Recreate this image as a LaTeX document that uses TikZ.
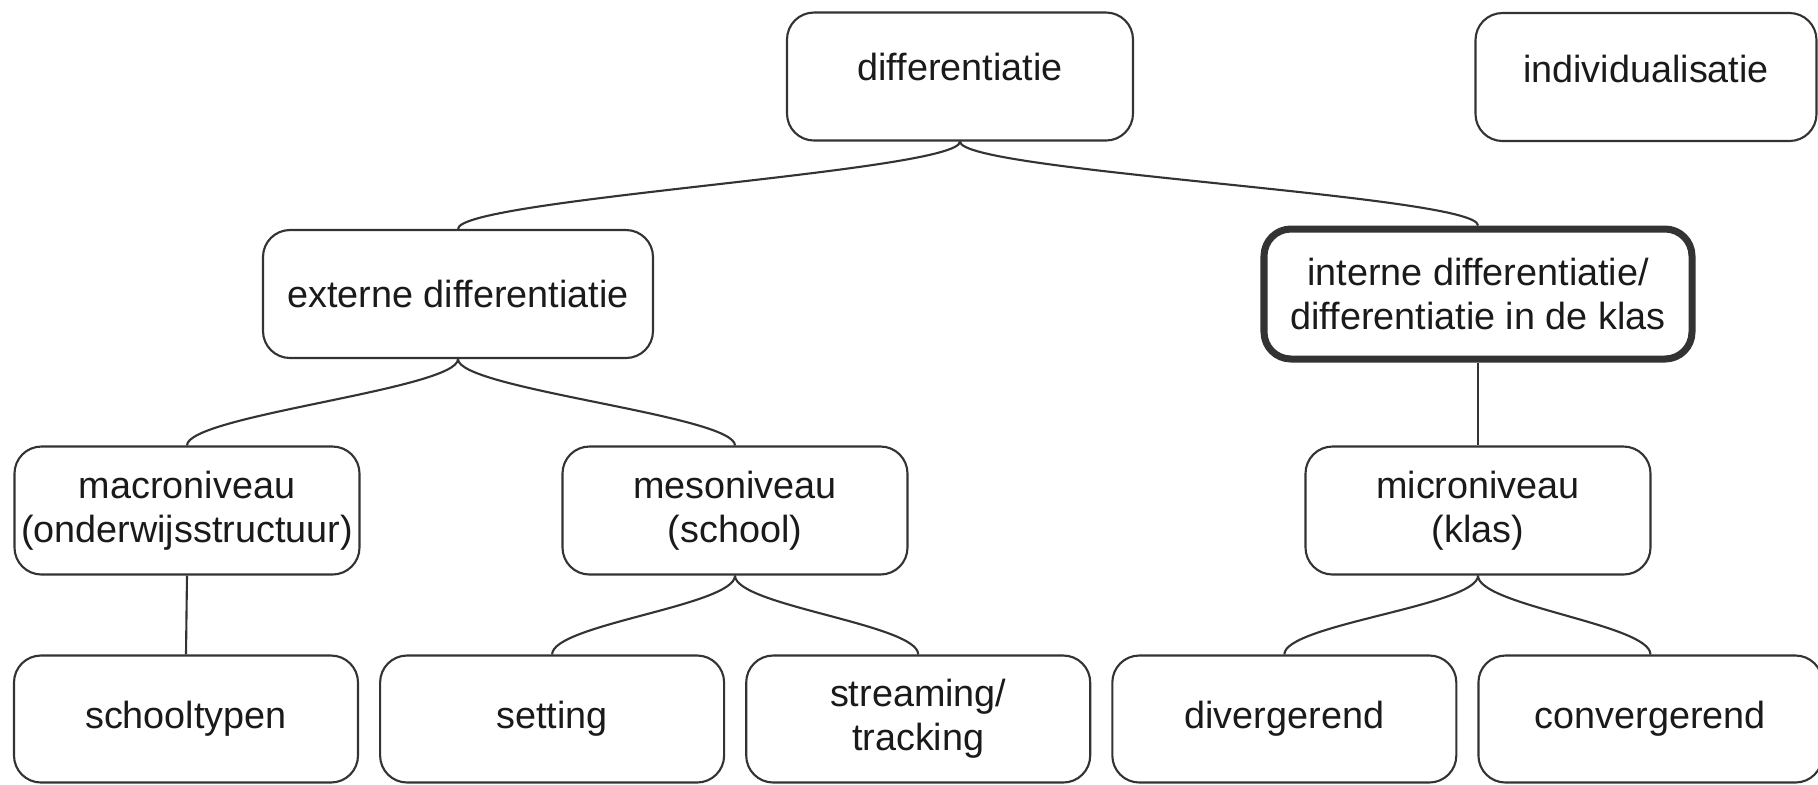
\documentclass[tikz,border=0pt]{standalone}
\usepackage{fontspec}
\setmainfont{Liberation Sans}
\usepackage{xcolor}
\usetikzlibrary{positioning}
\definecolor{conceptline}{HTML}{333333}
\definecolor{concepttext}{HTML}{1A1A1A}

\begin{document}
\begin{tikzpicture}[
  concept/.style={
    rectangle,
    rounded corners=0.27cm,
    draw=conceptline,
    line width=0.6pt,
    minimum width=3.44cm,
    minimum height=1.28cm,
    inner sep=1pt,
    align=center,
    text=concepttext,
    font=\fontsize{10.75}{12.6}\selectfont
  },
  focus/.style={concept, line width=2pt, minimum width=4.28cm, minimum height=1.30cm},
  curvelink/.style={draw=conceptline, line width=0.6pt,
    to path={.. controls +(0,-0.3) and +(0,0.3) .. (\tikztotarget)}},
  stem/.style={draw=conceptline, line width=0.6pt}
]
\useasboundingbox (0,0) rectangle (18.18,-7.84);

% top row
\node[concept, minimum width=3.46cm, text depth=0.2cm] (diff) at (9.60,-0.765) {differentiatie};
\node[concept, minimum width=3.41cm, text depth=0.16cm] (indiv) at (16.46,-0.77) {individualisatie};

% second row
\node[concept, minimum width=3.90cm] (extern) at (4.58,-2.94) {externe differentiatie};
\node[focus] (intern) at (14.78,-2.94) {interne differentiatie/\\differentiatie in de klas};

% third row
\node[concept, minimum width=3.45cm] (macro) at (1.87,-5.105) {macroniveau\\(onderwijsstructuur)};
\node[concept, minimum width=3.45cm] (meso) at (7.35,-5.105) {mesoniveau\\(school)};
\node[concept, minimum width=3.45cm] (micro) at (14.78,-5.105) {microniveau\\(klas)};

% bottom row
\node[concept, minimum height=1.27cm] (types) at (1.86,-7.19) {schooltypen};
\node[concept, minimum height=1.27cm, right=0.20cm of types] (setting) {setting};
\node[concept, minimum height=1.27cm, right=0.20cm of setting] (streaming) {streaming/\\tracking};
\node[concept, minimum height=1.27cm, right=0.20cm of streaming] (diverg) {divergerend};
\node[concept, minimum height=1.27cm, right=0.20cm of diverg] (converg) {convergerend};

\draw[curvelink] (diff.south) to (extern.north);
\draw[curvelink] (diff.south) to (intern.north);
\draw[curvelink] (extern.south) to (macro.north);
\draw[curvelink] (extern.south) to (meso.north);
\draw[curvelink] (meso.south) to (setting.north);
\draw[curvelink] (meso.south) to (streaming.north);
\draw[curvelink] (micro.south) to (diverg.north);
\draw[curvelink] (micro.south) to (converg.north);
\draw[stem] (macro.south) -- (types.north);
\draw[stem] (intern.south) -- (micro.north);

\end{tikzpicture}
\end{document}
